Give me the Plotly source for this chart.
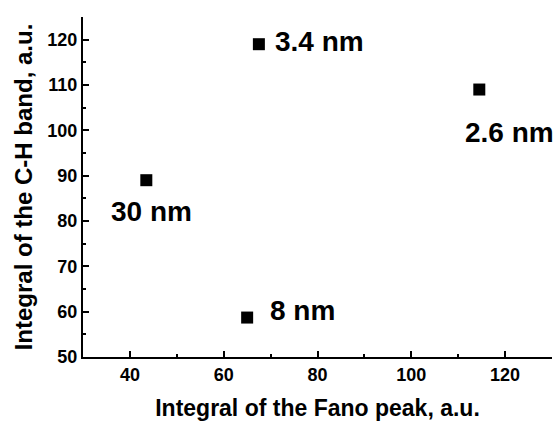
import plotly.graph_objects as go

fano = [43.5, 65.0, 67.5, 114.5]
ch_band = [89.0, 58.7, 119.0, 109.0]
sizes = ["30 nm", "8 nm", "3.4 nm", "2.6 nm"]

FONT = "Liberation Sans, Arial"

fig = go.Figure()
fig.add_trace(go.Scatter(x=fano, y=ch_band, mode="markers",
                         marker=dict(symbol="square", size=12, color="black"),
                         showlegend=False, cliponaxis=False, hoverinfo="skip"))

shifts = [(5, -31), (55, 7), (61, 3), (30, -43)]
for xv, yv, t, (dx, dy) in zip(fano, ch_band, sizes, shifts):
    fig.add_annotation(x=xv, y=yv, text=f"<b>{t}</b>", showarrow=False,
                       xshift=dx, yshift=dy,
                       font=dict(size=28, color="black", family=FONT))

axis_common = dict(showline=True, linecolor="black", linewidth=2, ticks="inside",
                   tickwidth=2, ticklen=6, tickcolor="black", showgrid=False, zeroline=False,
                   automargin=False,
                   tickfont=dict(size=18, color="black", family=FONT),
                   minor=dict(ticks="inside", ticklen=3, tickwidth=2, tickcolor="black"))

fig.update_xaxes(range=[30, 130], tickvals=[40, 60, 80, 100, 120],
                 ticktext=["<b>40</b>", "<b>60</b>", "<b>80</b>", "<b>100</b>", "<b>120</b>"],
                 minor_tickvals=[50, 70, 90, 110, 130],
                 title=dict(text="<b>Integral of the Fano peak, a.u.</b>", standoff=16,
                            font=dict(size=23, color="black", family=FONT)),
                 **axis_common)
yt = [50, 60, 70, 80, 90, 100, 110, 120]
fig.update_yaxes(range=[50, 125], tickvals=yt, ticktext=[f"<b>{v}</b>" for v in yt],
                 minor_tickvals=[55, 65, 75, 85, 95, 105, 115],
                 title=dict(text="<b>Integral of the C-H band, a.u.</b>", standoff=8,
                            font=dict(size=24, color="black", family=FONT)),
                 **axis_common)

fig.update_layout(width=557, height=421, plot_bgcolor="white", paper_bgcolor="white",
                  margin=dict(l=83, r=5, t=17, b=64), hovermode=False)
fig.write_html("out.html", config={"displayModeBar": False},
               post_script="document.body.style.margin='0';document.body.style.overflow='hidden';")
